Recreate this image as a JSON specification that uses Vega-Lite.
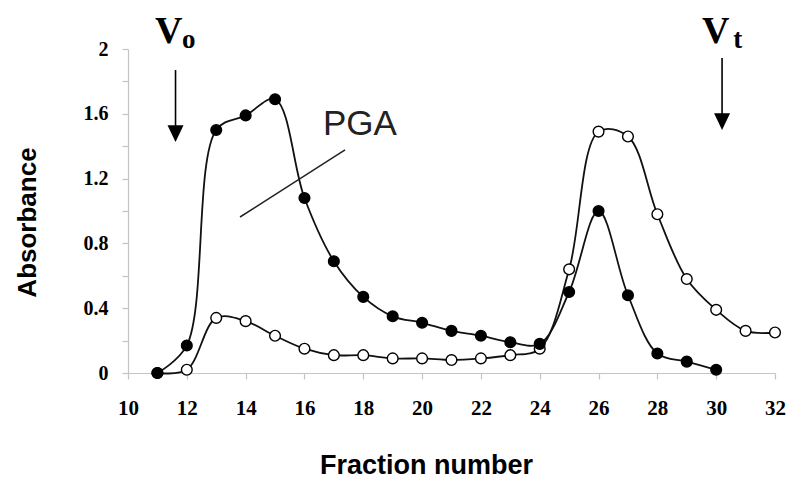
{
  "$schema": "https://vega.github.io/schema/vega-lite/v6.json",
  "width": 647,
  "height": 324,
  "padding": {"left": 128, "top": 49, "right": 25, "bottom": 112},
  "autosize": "none",
  "background": "white",
  "config": {"view": {"stroke": null}},
  "datasets": {
    "curves": [
      {"fraction": 11, "absorbance": 0.0, "series": "open"},
      {"fraction": 12, "absorbance": 0.02, "series": "open"},
      {"fraction": 13, "absorbance": 0.34, "series": "open"},
      {"fraction": 14, "absorbance": 0.32, "series": "open"},
      {"fraction": 15, "absorbance": 0.23, "series": "open"},
      {"fraction": 16, "absorbance": 0.15, "series": "open"},
      {"fraction": 17, "absorbance": 0.11, "series": "open"},
      {"fraction": 18, "absorbance": 0.11, "series": "open"},
      {"fraction": 19, "absorbance": 0.09, "series": "open"},
      {"fraction": 20, "absorbance": 0.09, "series": "open"},
      {"fraction": 21, "absorbance": 0.08, "series": "open"},
      {"fraction": 22, "absorbance": 0.09, "series": "open"},
      {"fraction": 23, "absorbance": 0.11, "series": "open"},
      {"fraction": 24, "absorbance": 0.15, "series": "open"},
      {"fraction": 25, "absorbance": 0.64, "series": "open"},
      {"fraction": 26, "absorbance": 1.49, "series": "open"},
      {"fraction": 27, "absorbance": 1.46, "series": "open"},
      {"fraction": 28, "absorbance": 0.98, "series": "open"},
      {"fraction": 29, "absorbance": 0.58, "series": "open"},
      {"fraction": 30, "absorbance": 0.39, "series": "open"},
      {"fraction": 31, "absorbance": 0.26, "series": "open"},
      {"fraction": 32, "absorbance": 0.25, "series": "open"},
      {"fraction": 11, "absorbance": 0.0, "series": "filled"},
      {"fraction": 12, "absorbance": 0.17, "series": "filled"},
      {"fraction": 13, "absorbance": 1.50, "series": "filled"},
      {"fraction": 14, "absorbance": 1.59, "series": "filled"},
      {"fraction": 15, "absorbance": 1.69, "series": "filled"},
      {"fraction": 16, "absorbance": 1.08, "series": "filled"},
      {"fraction": 17, "absorbance": 0.69, "series": "filled"},
      {"fraction": 18, "absorbance": 0.47, "series": "filled"},
      {"fraction": 19, "absorbance": 0.35, "series": "filled"},
      {"fraction": 20, "absorbance": 0.31, "series": "filled"},
      {"fraction": 21, "absorbance": 0.26, "series": "filled"},
      {"fraction": 22, "absorbance": 0.23, "series": "filled"},
      {"fraction": 23, "absorbance": 0.19, "series": "filled"},
      {"fraction": 24, "absorbance": 0.18, "series": "filled"},
      {"fraction": 25, "absorbance": 0.50, "series": "filled"},
      {"fraction": 26, "absorbance": 1.00, "series": "filled"},
      {"fraction": 27, "absorbance": 0.48, "series": "filled"},
      {"fraction": 28, "absorbance": 0.12, "series": "filled"},
      {"fraction": 29, "absorbance": 0.07, "series": "filled"},
      {"fraction": 30, "absorbance": 0.02, "series": "filled"}
    ],
    "notes": [
      {"kind": "big", "fraction": 10.92, "absorbance": 2.037, "label": "V"},
      {"kind": "big", "fraction": 29.52, "absorbance": 2.04, "label": "V"},
      {"kind": "sub", "fraction": 11.84, "absorbance": 2.006, "label": "o"},
      {"kind": "sub", "fraction": 30.58, "absorbance": 2.006, "label": "t"},
      {"kind": "pga", "fraction": 16.63, "absorbance": 1.469, "label": "PGA"},
      {"kind": "shaft", "fraction": 11.616, "absorbance": 1.87, "absorbance2": 1.50},
      {"kind": "shaft", "fraction": 30.20, "absorbance": 1.944, "absorbance2": 1.57},
      {"kind": "head", "fraction": 11.616, "absorbance": 1.478},
      {"kind": "head", "fraction": 30.20, "absorbance": 1.552},
      {"kind": "pgaline", "fraction": 13.81, "absorbance": 0.963, "fraction2": 17.38, "absorbance2": 1.377}
    ]
  },
  "encoding": {
    "x": {
      "field": "fraction", "type": "quantitative",
      "scale": {"domain": [10, 32], "nice": false, "zero": false},
      "axis": {
        "title": "Fraction number",
        "values": [10, 12, 14, 16, 18, 20, 22, 24, 26, 28, 30, 32],
        "grid": false,
        "domainColor": "#c4c4c4", "tickColor": "#c4c4c4", "tickSize": 6, "domainWidth": 1.2, "tickWidth": 1.2,
        "labelFont": "Liberation Serif", "labelFontWeight": "bold", "labelFontSize": 21, "labelColor": "#000",
        "labelPadding": 18, "labelBaseline": "top", "labelFlush": false,
        "titleFont": "Liberation Sans", "titleFontWeight": "bold", "titleFontSize": 27, "titleColor": "#000",
        "titleX": 298, "titleY": 100, "titleBaseline": "alphabetic", "titleAlign": "center"
      }
    },
    "y": {
      "field": "absorbance", "type": "quantitative",
      "scale": {"domain": [0, 2], "nice": false},
      "axis": {
        "title": "Absorbance",
        "values": [0, 0.2, 0.4, 0.6, 0.8, 1.0, 1.2, 1.4, 1.6, 1.8, 2.0],
        "labelExpr": "round(datum.value*10) % 4 == 0 ? datum.value + '' : ''",
        "grid": false,
        "domainColor": "#c4c4c4", "tickColor": "#c4c4c4", "tickSize": 6, "domainWidth": 1.2, "tickWidth": 1.2,
        "labelFont": "Liberation Serif", "labelFontWeight": "bold", "labelFontSize": 20, "labelColor": "#000",
        "labelPadding": 14, "labelFlush": false,
        "titleFont": "Liberation Sans", "titleFontWeight": "bold", "titleFontSize": 26, "titleColor": "#000",
        "titleX": -93, "titleY": 173, "titleBaseline": "alphabetic", "titleAlign": "center", "titleAngle": -90
      }
    }
  },
  "layer": [
    {
      "data": {"name": "curves"},
      "mark": {"type": "line", "interpolate": "catmull-rom", "color": "#111", "strokeWidth": 1.8},
      "encoding": {"detail": {"field": "series"}}
    },
    {
      "data": {"name": "curves"},
      "mark": {"type": "point", "shape": "circle", "filled": true, "size": 115, "stroke": "#000", "strokeWidth": 1.4, "opacity": 1},
      "encoding": {
        "fill": {"field": "series", "type": "nominal", "scale": {"domain": ["filled", "open"], "range": ["#000000", "#ffffff"]}, "legend": null}
      }
    },
    {
      "data": {"name": "notes"},
      "transform": [{"filter": "datum.kind == 'shaft'"}],
      "mark": {"type": "rule", "color": "#000", "strokeWidth": 1.6},
      "encoding": {"y2": {"field": "absorbance2"}}
    },
    {
      "data": {"name": "notes"},
      "transform": [{"filter": "datum.kind == 'head'"}],
      "mark": {"type": "point", "shape": "M-1,-1.05L1,-1.05L0,1.05Z", "filled": true, "color": "#000", "size": 256, "opacity": 1}
    },
    {
      "data": {"name": "notes"},
      "transform": [{"filter": "datum.kind == 'pgaline'"}],
      "mark": {"type": "rule", "color": "#222", "strokeWidth": 1.5},
      "encoding": {"x2": {"field": "fraction2"}, "y2": {"field": "absorbance2"}}
    },
    {
      "data": {"name": "notes"},
      "transform": [{"filter": "datum.kind == 'big'"}],
      "mark": {"type": "text", "font": "Liberation Serif", "fontWeight": "bold", "fontSize": 38, "align": "left", "baseline": "alphabetic", "color": "#000"},
      "encoding": {"text": {"field": "label"}}
    },
    {
      "data": {"name": "notes"},
      "transform": [{"filter": "datum.kind == 'sub'"}],
      "mark": {"type": "text", "font": "Liberation Serif", "fontWeight": "bold", "fontSize": 27, "align": "left", "baseline": "alphabetic", "color": "#000"},
      "encoding": {"text": {"field": "label"}}
    },
    {
      "data": {"name": "notes"},
      "transform": [{"filter": "datum.kind == 'pga'"}],
      "mark": {"type": "text", "font": "Liberation Sans", "fontSize": 35, "align": "left", "baseline": "alphabetic", "color": "#222"},
      "encoding": {"text": {"field": "label"}}
    }
  ]
}
